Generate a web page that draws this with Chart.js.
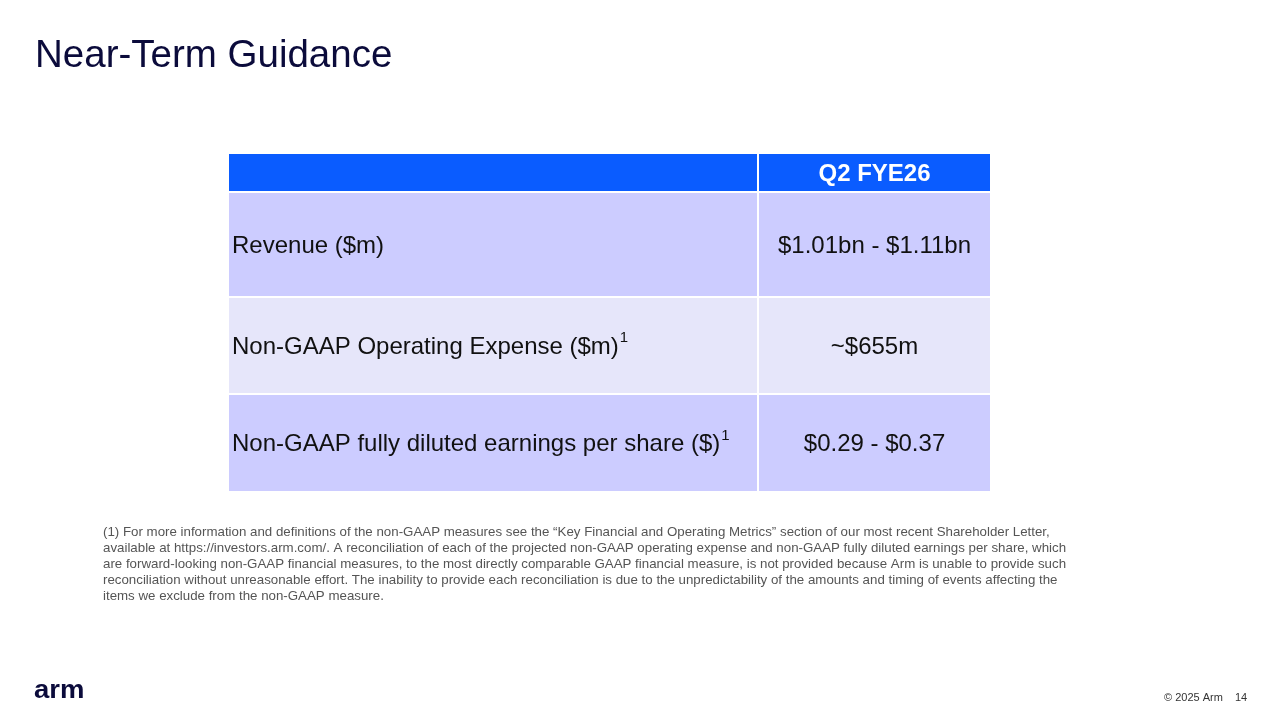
<!DOCTYPE html>
<html><head><meta charset="utf-8">
<script src="https://cdn.jsdelivr.net/npm/chart.js@4"></script>
<style>html,body{margin:0;padding:0;background:#fff;}#wrap{width:1280px;height:720px;position:relative}</style>
</head><body><div id="wrap"><canvas id="c" width="1280" height="720"></canvas></div>
<script>
const headerLabels = ["", "Q2 FYE26"];
const rowLabels = ["Revenue ($m)", "Non-GAAP Operating Expense ($m)", "Non-GAAP fully diluted earnings per share ($)"];
const rowNotes = ["", "1", "1"];
const rowValues = ["$1.01bn - $1.11bn", "~$655m", "$0.29 - $0.37"];
const footnote = [
"(1) For more information and definitions of the non-GAAP measures see the \u201cKey Financial and Operating Metrics\u201d section of our most recent Shareholder Letter,",
"available at https://investors.arm.com/. A reconciliation of each of the projected non-GAAP operating expense and non-GAAP fully diluted earnings per share, which",
"are forward-looking non-GAAP financial measures, to the most directly comparable GAAP financial measure, is not provided because Arm is unable to provide such",
"reconciliation without unreasonable effort. The inability to provide each reconciliation is due to the unpredictability of the amounts and timing of events affecting the",
"items we exclude from the non-GAAP measure."];

// layout (pixel-space coordinates on hidden linear scales)
const colEdges = [228, 758, 991];
const rowEdges = [153, 192, 297, 394, 492];
const rowColors = ["#0a5cff", "#ccccff", "#e6e6fa", "#ccccff"];
const F = "'Liberation Sans', Arial, sans-serif";

const tablePlugin = {
  id: 'table',
  afterDraw(chart) {
    const {ctx, scales:{x, y}} = chart;
    ctx.save();
    ctx.fillStyle = "#0b0b3b"; ctx.font = "38.5px " + F; ctx.textBaseline = "middle"; ctx.textAlign = "left";
    ctx.fillText("Near-Term Guidance", x.getPixelForValue(35), y.getPixelForValue(56));
    for (let r = 0; r < rowEdges.length - 1; r++) {
      for (let c = 0; c < colEdges.length - 1; c++) {
        const x0 = x.getPixelForValue(colEdges[c]), x1 = x.getPixelForValue(colEdges[c+1]);
        const y0 = y.getPixelForValue(rowEdges[r]), y1 = y.getPixelForValue(rowEdges[r+1]);
        ctx.fillStyle = rowColors[r];
        ctx.fillRect(x0, y0, x1 - x0, y1 - y0);
        ctx.strokeStyle = "#ffffff"; ctx.lineWidth = 2;
        ctx.strokeRect(x0, y0, x1 - x0, y1 - y0);
        const cy = (y0 + y1) / 2 + 1.5;
        let txt, bold = false, color = "#111";
        if (r === 0) { txt = headerLabels[c]; bold = true; color = "#fff"; }
        else txt = c === 0 ? rowLabels[r-1] : rowValues[r-1];
        ctx.fillStyle = color;
        ctx.font = (bold ? "bold " : "") + "24px " + F;
        if (c === 0) {
          ctx.textAlign = "left"; ctx.fillText(txt, x0 + 4, cy);
          if (r > 0 && rowNotes[r-1]) {
            const w = ctx.measureText(txt).width;
            ctx.font = "15px " + F; ctx.fillText(rowNotes[r-1], x0 + 5 + w, cy - 9);
          }
        } else { ctx.textAlign = "center"; ctx.fillText(txt, (x0 + x1) / 2, cy); }
      }
    }
    ctx.textAlign = "left"; ctx.fillStyle = "#555"; ctx.font = "13.3px " + F;
    footnote.forEach((l, i) => ctx.fillText(l, x.getPixelForValue(103), y.getPixelForValue(532 + i * 16)));
    ctx.fillStyle = "#0b0b3b"; ctx.font = "bold 25px " + F;
    ctx.save(); ctx.translate(x.getPixelForValue(34), y.getPixelForValue(691)); ctx.scale(1.1, 1);
    ctx.fillText("arm", 0, 0); ctx.restore();
    ctx.fillStyle = "#333"; ctx.font = "11px " + F;
    ctx.fillText("\u00a9 2025 Arm", x.getPixelForValue(1164), y.getPixelForValue(698));
    ctx.fillText("14", x.getPixelForValue(1235), y.getPixelForValue(698));
    ctx.restore();
  }
};

new Chart(document.getElementById('c'), {
  type: 'scatter',
  data: { datasets: [{ data: [], pointRadius: 0 }] },
  options: {
    responsive: false, animation: false,
    layout: { padding: 0 },
    plugins: { legend: { display: false }, tooltip: { enabled: false } },
    scales: {
      x: { type: 'linear', min: 0, max: 1280, display: false },
      y: { type: 'linear', min: 0, max: 720, reverse: true, display: false }
    }
  },
  plugins: [tablePlugin]
});
</script></body></html>
